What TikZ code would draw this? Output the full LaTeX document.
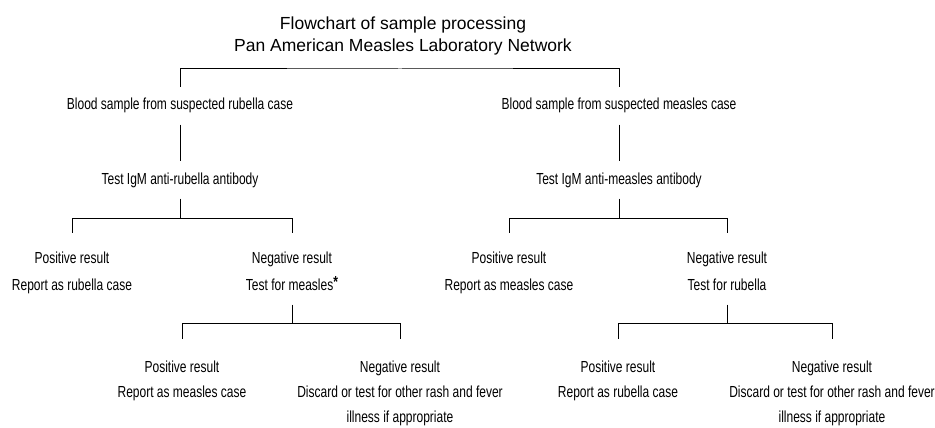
\documentclass[tikz,border=0pt]{standalone}
\usepackage{fontspec}
\setmainfont{Liberation Sans}
\newfontfamily\narrowfont{Liberation Sans}[FakeStretch=0.75]
\begin{document}
\begin{tikzpicture}[x=1pt,y=-1pt,
  lbl/.style={font=\narrowfont\fontsize{16}{27}\selectfont, align=center, text height=12pt, text depth=3.5pt, inner xsep=2pt, inner ysep=11pt},
  lbltwo/.style={lbl, text height=39pt},
  lblb/.style={lbl, font=\narrowfont\fontsize{16}{25}\selectfont, text height=37pt},
  lblc/.style={lbl, font=\narrowfont\fontsize{16}{25}\selectfont, text height=62pt},
  conn/.style={line width=1pt},
  dropa/.style={conn, shorten >=7pt},
  dropb/.style={conn, shorten >=10pt}]
\useasboundingbox (0,0) rectangle (935,428);
\node[font=\fontsize{17.5}{22}\selectfont, align=center, text height=35pt, text depth=4pt, inner sep=0pt] (title) at (403,36.5) {Flowchart of sample processing\\Pan American Measles Laboratory Network};
% level 1
\node[lbl] (b1) at (180,105.75) {Blood sample from suspected rubella case};
\node[lbl] (b2) at (619,105.75) {Blood sample from suspected measles case};
% level 2
\node[lbl] (t1) at (180,179.75) {Test IgM anti-rubella antibody};
\node[lbl] (t2) at (619,179.75) {Test IgM anti-measles antibody};
% level 3
\node[lbltwo] (p1) at (72,272.25) {Positive result\\Report as rubella case};
\node[lbltwo] (n1) at (292,272.25) {Negative result\\Test for measles\raisebox{2.5pt}{\bfseries *}};
\node[lbltwo] (p2) at (509,272.25) {Positive result\\Report as measles case};
\node[lbltwo] (n2) at (727,272.25) {Negative result\\Test for rubella};
% level 4
\node[lblb] (p3) at (182,380.25) {Positive result\\Report as measles case};
\node[lblc] (n3) at (400,392.75) {Negative result\\Discard or test for other rash and fever\\illness if appropriate};
\node[lblb] (p4) at (618,380.25) {Positive result\\Report as rubella case};
\node[lblc] (n4) at (832,392.75) {Negative result\\Discard or test for other rash and fever\\illness if appropriate};
% junctions
\coordinate (j0) at (400,69);
\coordinate (j1) at (180,218);
\coordinate (j2) at (619,218);
\coordinate (j3) at (292,323);
\coordinate (j4) at (727,323);
% connectors
\draw[conn] (b1.north) |- (j0) -| (b2.north);
\draw[conn] (b1.south) -- (t1.north);
\draw[conn] (b2.south) -- (t2.north);
\draw[conn] (t1.south) -- (j1);
\draw[dropa] (j1) -| (p1.north);
\draw[dropa] (j1) -| (n1.north);
\draw[conn] (t2.south) -- (j2);
\draw[dropa] (j2) -| (p2.north);
\draw[dropa] (j2) -| (n2.north);
\draw[conn] (n1.south) -- (j3);
\draw[dropb] (j3) -| (p3.north);
\draw[dropb] (j3) -| (n3.north);
\draw[conn] (n2.south) -- (j4);
\draw[dropb] (j4) -| (p4.north);
\draw[dropb] (j4) -| (n4.north);
\end{tikzpicture}
\end{document}
